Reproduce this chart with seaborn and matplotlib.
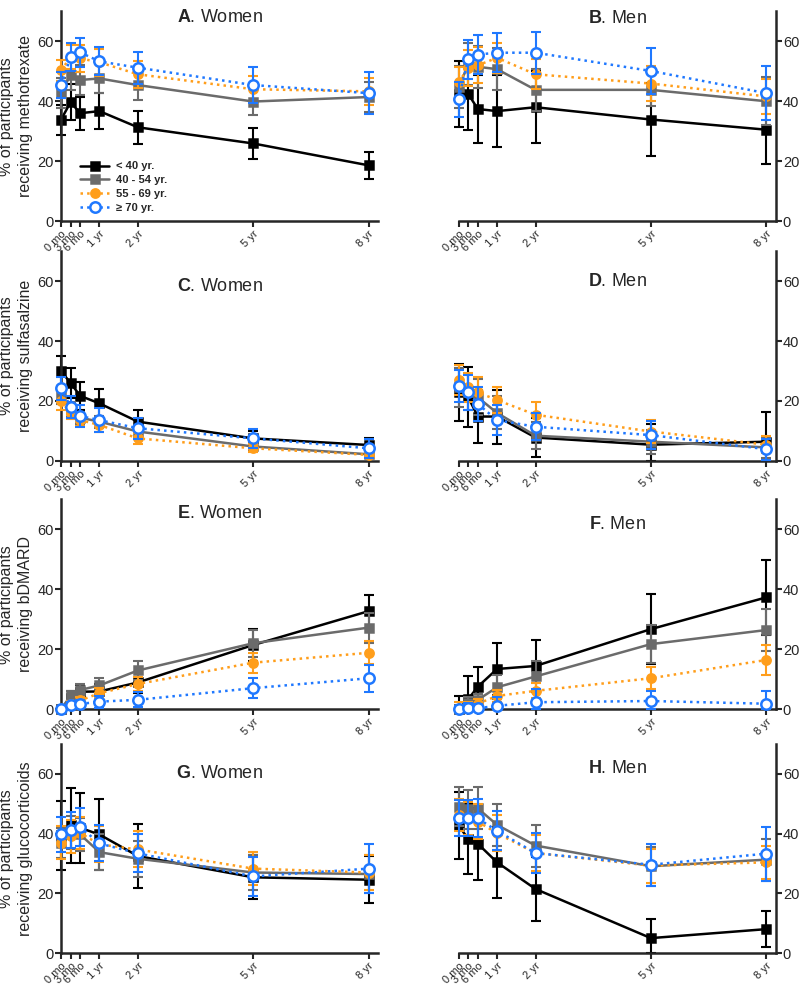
import numpy as np
import pandas as pd
import seaborn as sns
import matplotlib.pyplot as plt

months = [0, 3, 6, 12, 24, 60, 96]
tick_labels = ["0 mo", "3 mo", "6 mo", "1 yr", "2 yr", "5 yr", "8 yr"]
ages = ["< 40 yr.", "40 - 54 yr.", "55 - 69 yr.", "≥ 70 yr."]

# one row per age group (same order as ages), one column per time point
# values = % of participants, err = half width of the error bar
mtx_women = [[33.8, 39.7, 36.0, 36.7, 31.3, 25.9, 18.6],
             [42.9, 48.7, 47.1, 47.6, 45.4, 39.9, 41.4],
             [50.3, 54.7, 54.3, 53.0, 49.0, 44.0, 43.3],
             [45.4, 54.7, 56.3, 53.3, 51.2, 45.4, 42.7]]
mtx_women_err = [[5.0, 6.0, 5.5, 6.0, 5.5, 5.2, 4.6],
                 [5.0, 5.0, 5.0, 5.0, 5.0, 4.6, 5.0],
                 [3.5, 4.0, 4.5, 4.5, 4.5, 4.5, 4.5],
                 [4.3, 4.6, 4.9, 4.7, 5.3, 6.0, 7.0]]

mtx_men = [[42.4, 42.4, 37.4, 36.7, 38.0, 33.9, 30.5],
           [44.6, 52.3, 51.5, 50.7, 43.8, 43.8, 40.0],
           [46.3, 51.2, 52.0, 54.5, 49.0, 45.9, 41.6],
           [40.7, 54.0, 55.6, 56.2, 56.2, 50.1, 42.7]]
mtx_men_err = [[11.0, 12.0, 11.5, 12.0, 12.0, 12.2, 11.6],
               [7.0, 7.0, 7.0, 7.0, 7.0, 5.5, 8.0],
               [5.0, 6.0, 6.0, 5.0, 5.0, 5.9, 5.8],
               [5.8, 6.5, 6.4, 6.5, 7.0, 7.7, 8.9]]

ssz_women = [[30.0, 26.0, 21.7, 19.2, 13.1, 7.5, 5.3],
             [22.0, 17.0, 14.4, 13.1, 9.8, 4.8, 2.2],
             [20.0, 15.9, 13.6, 12.0, 7.5, 4.2, 2.0],
             [24.2, 18.1, 15.0, 13.6, 10.9, 7.5, 4.2]]
ssz_women_err = [[5.0, 5.0, 4.6, 4.8, 3.9, 2.5, 2.5],
                 [3.0, 2.5, 2.0, 2.0, 2.0, 1.5, 1.2],
                 [3.0, 2.0, 2.0, 2.3, 1.8, 1.3, 1.0],
                 [3.8, 3.7, 3.8, 4.0, 3.5, 3.3, 3.2]]

ssz_men = [[22.9, 21.2, 14.8, 14.8, 7.8, 5.4, 6.4],
           [24.5, 22.9, 21.2, 16.0, 8.4, 6.4, 4.5],
           [27.0, 24.5, 22.9, 20.3, 15.4, 9.8, 5.4],
           [25.1, 22.9, 19.0, 13.6, 11.4, 8.6, 3.9]]
ssz_men_err = [[9.5, 10.0, 8.8, 9.0, 6.5, 7.0, 10.0],
               [6.5, 6.0, 6.0, 5.5, 4.5, 4.0, 3.5],
               [5.0, 5.0, 5.0, 4.3, 4.3, 3.7, 2.8],
               [5.3, 5.8, 5.6, 5.0, 4.5, 4.6, 3.5]]

bio_women = [[0.0, 3.7, 5.8, 5.9, 8.9, 21.4, 32.7],
             [0.0, 4.4, 6.4, 7.9, 12.9, 22.0, 27.2],
             [0.0, 1.8, 2.9, 5.3, 8.4, 15.5, 18.8],
             [0.0, 1.3, 1.7, 2.5, 3.1, 7.0, 10.3]]
bio_women_err = [[0.0, 2.5, 2.4, 2.6, 3.6, 5.2, 5.5],
                 [0.0, 1.5, 2.0, 2.5, 3.3, 4.5, 5.0],
                 [0.0, 1.0, 1.2, 1.7, 2.2, 3.3, 3.8],
                 [0.0, 1.0, 1.2, 2.0, 2.5, 3.3, 4.5]]

bio_men = [[0.0, 3.3, 7.5, 13.4, 14.4, 26.7, 37.3],
           [0.0, 2.2, 3.1, 7.3, 10.9, 21.7, 26.4],
           [0.0, 0.9, 1.8, 4.4, 6.1, 10.3, 16.4],
           [0.0, 0.5, 0.3, 1.1, 2.3, 2.7, 1.8]]
bio_men_err = [[4.4, 7.6, 6.4, 8.6, 8.7, 11.7, 12.4],
               [1.5, 2.0, 2.0, 4.0, 5.0, 6.3, 7.0],
               [2.5, 1.5, 1.5, 2.0, 2.5, 3.6, 4.9],
               [1.0, 1.5, 1.5, 3.0, 4.5, 3.5, 4.2]]

gc_women = [[39.5, 42.7, 41.9, 39.7, 32.5, 25.4, 24.6],
            [37.0, 40.5, 39.7, 33.8, 31.6, 27.0, 26.5],
            [37.0, 39.1, 40.2, 36.4, 34.7, 28.3, 27.0],
            [39.7, 41.3, 42.2, 36.7, 33.4, 25.7, 28.3]]
gc_women_err = [[11.5, 12.4, 11.6, 11.9, 10.7, 7.4, 7.9],
                [5.0, 5.5, 5.5, 6.0, 6.0, 6.0, 6.5],
                [5.5, 5.5, 5.5, 6.0, 6.0, 5.5, 6.0],
                [6.0, 6.0, 6.3, 6.0, 6.3, 6.4, 8.1]]

gc_men = [[42.7, 38.2, 36.6, 30.4, 21.5, 5.1, 8.1],
          [49.0, 48.1, 48.4, 42.9, 36.0, 29.1, 31.3],
          [46.2, 45.1, 44.0, 40.1, 33.5, 29.3, 30.4],
          [45.3, 45.1, 45.1, 40.9, 33.5, 29.6, 33.3]]
gc_men_err = [[11.3, 11.8, 12.0, 11.8, 10.7, 6.5, 6.0],
              [6.5, 6.5, 7.0, 7.0, 7.0, 6.5, 7.0],
              [5.5, 5.5, 5.8, 6.0, 6.0, 5.7, 5.5],
              [6.0, 6.0, 6.3, 6.5, 6.7, 7.0, 9.0]]

sns.set_style("ticks")
plt.rcParams["font.family"] = ["Liberation Sans", "DejaVu Sans"]
plt.rcParams["mathtext.fontset"] = "custom"
plt.rcParams["mathtext.rm"] = "Liberation Sans"
plt.rcParams["mathtext.bf"] = "Liberation Sans:bold"

colors = ["black", "#6b6b6b", "#ff9e1b", "#1f78ff"]
linestyles = ["-", "-", ":", ":"]
markers = ["s", "s", "o", "o"]
facecolors = ["black", "#6b6b6b", "#ff9e1b", "white"]
msizes = [6.3, 6.3, 6, 7.5]

fig = plt.figure(figsize=(7.99, 9.89), dpi=100)

# (values, errors, letter, sex, drug label, title height, column, row)
panels = [
    (mtx_women, mtx_women_err, "A", "Women", "methotrexate", 0.97, 0, 0),
    (mtx_men, mtx_men_err, "B", "Men", "methotrexate", 0.967, 1, 0),
    (ssz_women, ssz_women_err, "C", "Women", "sulfasalzine", 0.83, 0, 1),
    (ssz_men, ssz_men_err, "D", "Men", "sulfasalzine", 0.857, 1, 1),
    (bio_women, bio_women_err, "E", "Women", "bDMARD", 0.933, 0, 2),
    (bio_men, bio_men_err, "F", "Men", "bDMARD", 0.88, 1, 2),
    (gc_women, gc_women_err, "G", "Women", "glucocorticoids", 0.858, 0, 3),
    (gc_men, gc_men_err, "H", "Men", "glucocorticoids", 0.88, 1, 3),
]

col_x = [0.0763, 0.574]
row_y = [0.7765, 0.534, 0.283, 0.036]

for vals, errs, letter, sex, drug, ty, col, row in panels:
    ax = fig.add_axes([col_x[col], row_y[row], 0.397, 0.212])
    for i, age in enumerate(ages):
        df = pd.DataFrame({"month": months, "pct": vals[i]})
        v = np.array(vals[i])
        e = np.array(errs[i])
        lo = np.minimum(e, v)
        ax.errorbar(months, v, yerr=[lo, e], fmt="none", ecolor=colors[i],
                    elinewidth=1.5, capsize=3.5, capthick=1.5,
                    clip_on=False, zorder=2 + i)
        sns.lineplot(data=df, x="month", y="pct", ax=ax, color=colors[i],
                     linestyle=linestyles[i], linewidth=1.8, marker=markers[i],
                     markersize=msizes[i], markerfacecolor=facecolors[i],
                     markeredgecolor=colors[i], markeredgewidth=1.8,
                     errorbar=None, clip_on=False, zorder=2.5 + i,
                     label=age if letter == "A" else None)

    ax.set_xlim(0, 99)
    ax.set_ylim(0, 70)
    ax.set_xticks(months)
    ax.set_xticklabels(tick_labels, rotation=45, ha="right",
                       rotation_mode="anchor", fontsize=8)
    ax.set_yticks([0, 20, 40, 60])
    ax.tick_params(axis="y", labelsize=10.5, width=1.5, length=4, pad=1)
    ax.tick_params(axis="x", width=1.5, length=4, pad=1.5)
    ax.set_xlabel("")

    if col == 0:
        sns.despine(ax=ax)
        ax.set_ylabel("% of participants\nreceiving " + drug, fontsize=11.5,
                      linespacing=1.35, labelpad=3)
    else:
        sns.despine(ax=ax, left=True, right=False)
        ax.yaxis.tick_right()
        ax.set_ylabel("")
    for s in ax.spines.values():
        s.set_linewidth(1.8)

    ax.text(0.5, ty, r"$\mathbf{" + letter + "}$. " + sex,
            transform=ax.transAxes, ha="center", va="center", fontsize=13)

    if letter == "A":
        ax.legend(loc="lower left", bbox_to_anchor=(0.03, -0.01), frameon=False,
                  prop={"weight": "bold", "size": 8}, handlelength=2.6,
                  labelspacing=0.35, handletextpad=0.6)
    elif ax.get_legend() is not None:
        ax.get_legend().remove()

fig.savefig("out.png", dpi=100)
